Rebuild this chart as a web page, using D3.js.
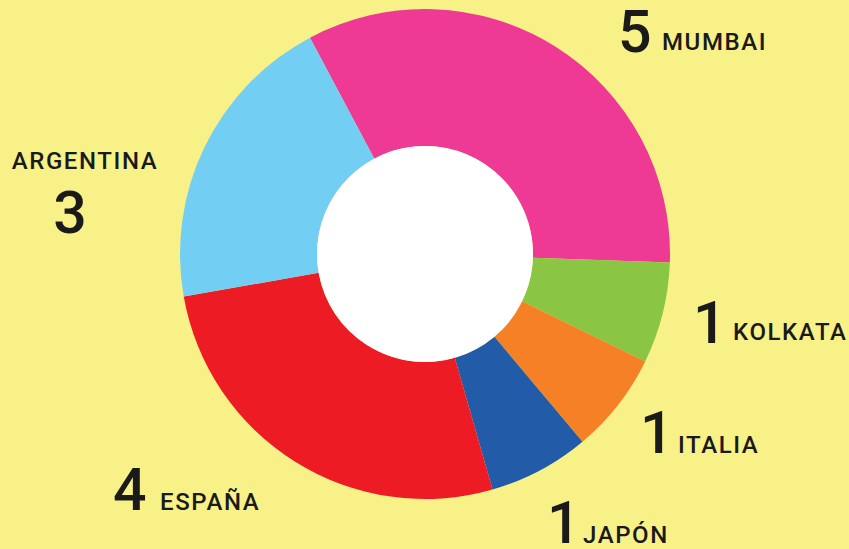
<!DOCTYPE html>
<html>
<head>
<meta charset="utf-8">
<script src="https://cdn.jsdelivr.net/npm/d3@7"></script>
<style>
  html, body { margin: 0; padding: 0; background: #F7F187; }
  svg { display: block; }
  text { font-family: Roboto, "DejaVu Sans", sans-serif; fill: #1a1a1a; }
</style>
</head>
<body>
<div id="chart"></div>
<script>
// Data
const cities = ["MUMBAI", "KOLKATA", "ITALIA", "JAPÓN", "ESPAÑA", "ARGENTINA"];
const counts = [5, 1, 1, 1, 4, 3];
const colors = ["#EE3A95", "#8AC543", "#F58025", "#225BA8", "#ED1C24", "#72CFF3"];

// Label placement (layout only)
const labelSpots = [
  { numX: 618, numY: 52, nameX: 662, nameY: 50, stacked: false },
  { numX: 693, numY: 343, nameX: 733, nameY: 340, stacked: false },
  { numX: 640, numY: 453, nameX: 678, nameY: 453, stacked: false },
  { numX: 547, numY: 543, nameX: 583, nameY: 543, stacked: false },
  { numX: 113, numY: 510, nameX: 160, nameY: 510, stacked: false },
  { numX: 70, numY: 233, nameX: 85, nameY: 169, stacked: true }
];

const width = 849, height = 549;
const cx = 425, cy = 254;
const outerR = 245, innerR = 108;

const svg = d3.select("#chart")
  .append("svg")
  .attr("width", width)
  .attr("height", height);

svg.append("rect")
  .attr("width", width)
  .attr("height", height)
  .attr("fill", "#F7F187");

// Pie starts just left of 12 o'clock
const start = -28 * Math.PI / 180;
const pie = d3.pie()
  .sort(null)
  .startAngle(start)
  .endAngle(start + 2 * Math.PI);

const arc = d3.arc()
  .innerRadius(innerR)
  .outerRadius(outerR);

const g = svg.append("g")
  .attr("transform", `translate(${cx},${cy})`);

g.selectAll("path")
  .data(pie(counts))
  .enter()
  .append("path")
  .attr("d", arc)
  .attr("fill", (d, i) => colors[i]);

g.append("circle")
  .attr("r", innerR)
  .attr("fill", "#ffffff");

// Labels
cities.forEach((name, i) => {
  const s = labelSpots[i];
  svg.append("text")
    .attr("x", s.numX)
    .attr("y", s.numY)
    .attr("text-anchor", s.stacked ? "middle" : "start")
    .attr("font-size", "59px")
    .attr("font-weight", "500")
    .text(counts[i]);

  svg.append("text")
    .attr("x", s.nameX)
    .attr("y", s.nameY)
    .attr("text-anchor", s.stacked ? "middle" : "start")
    .attr("font-size", "24px")
    .attr("font-weight", "500")
    .attr("letter-spacing", "1.6px")
    .text(name);
});
</script>
</body>
</html>
